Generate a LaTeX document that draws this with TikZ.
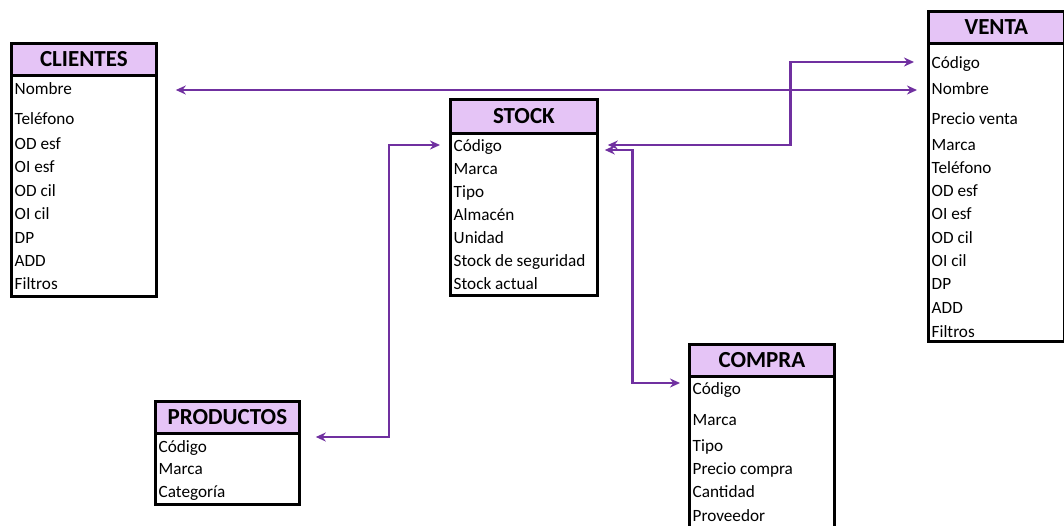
\documentclass[tikz,border=0pt]{standalone}
\usepackage{fontspec}
\setmainfont{Carlito}
\usetikzlibrary{calc,arrows.meta}
\definecolor{hdrfill}{HTML}{E5C4F6}
\definecolor{linkcol}{HTML}{7030A0}
\tikzset{
  tbody/.style={draw=black, line width=2.8pt, fill=white, anchor=north west, inner sep=0pt},
  thead/.style={draw=black, line width=2.8pt, fill=hdrfill, anchor=north west, inner sep=0pt,
    font=\fontsize{23}{26}\selectfont\bfseries},
  field/.style={anchor=west, inner sep=0pt, font=\fontsize{17.2}{20}\selectfont,
    text height=0.68em, text depth=0.2em, yshift=-4.5pt},
  link/.style={draw=linkcol, line width=2.7pt,
    {Stealth[length=10pt,width=9pt]}-{Stealth[length=10pt,width=9pt]}},
}
\begin{document}
\begin{tikzpicture}[x=1pt,y=-1pt]
\useasboundingbox (0,0) rectangle (1064,525);

% ---------- CLIENTES ----------
\node[tbody, minimum width=145pt, minimum height=221pt] (cli) at (10,74) {};
\node[thead, minimum width=145pt, minimum height=32pt] (cli-h) at (10,42) {CLIENTES};
\node[field] (cli-nombre) at (14.5,88) {Nombre};
\node[field] (cli-tel)    at (14.5,118) {Teléfono};
\node[field] (cli-odesf)  at (14.5,143) {OD esf};
\node[field] (cli-oiesf)  at (14.5,166) {OI esf};
\node[field] (cli-odcil)  at (14.5,190) {OD cil};
\node[field] (cli-oicil)  at (14.5,213) {OI cil};
\node[field] (cli-dp)     at (14.5,237) {DP};
\node[field] (cli-add)    at (14.5,260) {ADD};
\node[field] (cli-filt)   at (14.5,283) {Filtros};

% ---------- STOCK ----------
\node[tbody, minimum width=147pt, minimum height=162pt] (stk) at (449,132) {};
\node[thead, minimum width=147pt, minimum height=34pt] (stk-h) at (449,98) {STOCK};
\node[field] (stk-codigo) at (453.5,145) {Código};
\node[field] (stk-marca)  at (453.5,168) {Marca};
\node[field] (stk-tipo)   at (453.5,191) {Tipo};
\node[field] (stk-alm)    at (453.5,214) {Almacén};
\node[field] (stk-unid)   at (453.5,237) {Unidad};
\node[field] (stk-seg)    at (453.5,260) {Stock de seguridad};
\node[field] (stk-act)    at (453.5,283) {Stock actual};

% ---------- VENTA ----------
\node[tbody, minimum width=136pt, minimum height=298pt] (ven) at (927,42) {};
\node[thead, minimum width=136pt, minimum height=32pt] (ven-h) at (927,10) {VENTA};
\node[field] (ven-codigo) at (931.5,62) {Código};
\node[field] (ven-nombre) at (931.5,88) {Nombre};
\node[field] (ven-precio) at (931.5,118) {Precio venta};
\node[field] (ven-marca)  at (931.5,144) {Marca};
\node[field] (ven-tel)    at (931.5,167) {Teléfono};
\node[field] (ven-odesf)  at (931.5,190) {OD esf};
\node[field] (ven-oiesf)  at (931.5,213) {OI esf};
\node[field] (ven-odcil)  at (931.5,237) {OD cil};
\node[field] (ven-oicil)  at (931.5,260) {OI cil};
\node[field] (ven-dp)     at (931.5,283) {DP};
\node[field] (ven-add)    at (931.5,307) {ADD};
\node[field] (ven-filt)   at (931.5,331) {Filtros};

% ---------- PRODUCTOS ----------
\node[tbody, minimum width=144pt, minimum height=71pt] (pro) at (154,432) {};
\node[thead, minimum width=144pt, minimum height=32pt] (pro-h) at (154,400) {PRODUCTOS};
\node[field] (pro-codigo) at (158.5,446) {Código};
\node[field] (pro-marca)  at (158.5,468) {Marca};
\node[field] (pro-cat)    at (158.5,491) {Categoría};

% ---------- COMPRA ----------
\node[tbody, minimum width=145pt, minimum height=160pt] (com) at (688,375) {};
\node[thead, minimum width=145pt, minimum height=32pt] (com-h) at (688,343) {COMPRA};
\node[field] (com-codigo) at (692.5,388) {Código};
\node[field] (com-marca)  at (692.5,419) {Marca};
\node[field] (com-tipo)   at (692.5,445) {Tipo};
\node[field] (com-precio) at (692.5,468) {Precio compra};
\node[field] (com-cant)   at (692.5,491) {Cantidad};
\node[field] (com-prov)   at (692.5,515) {Proveedor};

% ---------- relations ----------
% CLIENTES.Nombre <-> VENTA.Nombre
\draw[link] ($(cli.east |- cli-nombre)+(18,-2.5)$) -- ($(ven.west |- ven-nombre)+(-10,-2.5)$);
% STOCK.Código <-> VENTA.Código
\draw[link] ($(stk.east |- stk-codigo)+(9,-4.5)$) -- ++(183,0) |- ($(ven.west |- ven-codigo)+(-13,-4.5)$);
% STOCK.Código <-> COMPRA.Código
\draw[link] ($(stk.east |- stk-codigo)+(6,0.5)$) -- ++(28,0) |- ($(com.west |- com-codigo)+(-8,-9.5)$);
% STOCK.Código <-> PRODUCTOS.Código
\draw[link] ($(stk.west |- stk-codigo)+(-9,-4.5)$) -- ++(-51,0) |- ($(pro.east |- pro-codigo)+(15,-13.5)$);
\end{tikzpicture}
\end{document}
